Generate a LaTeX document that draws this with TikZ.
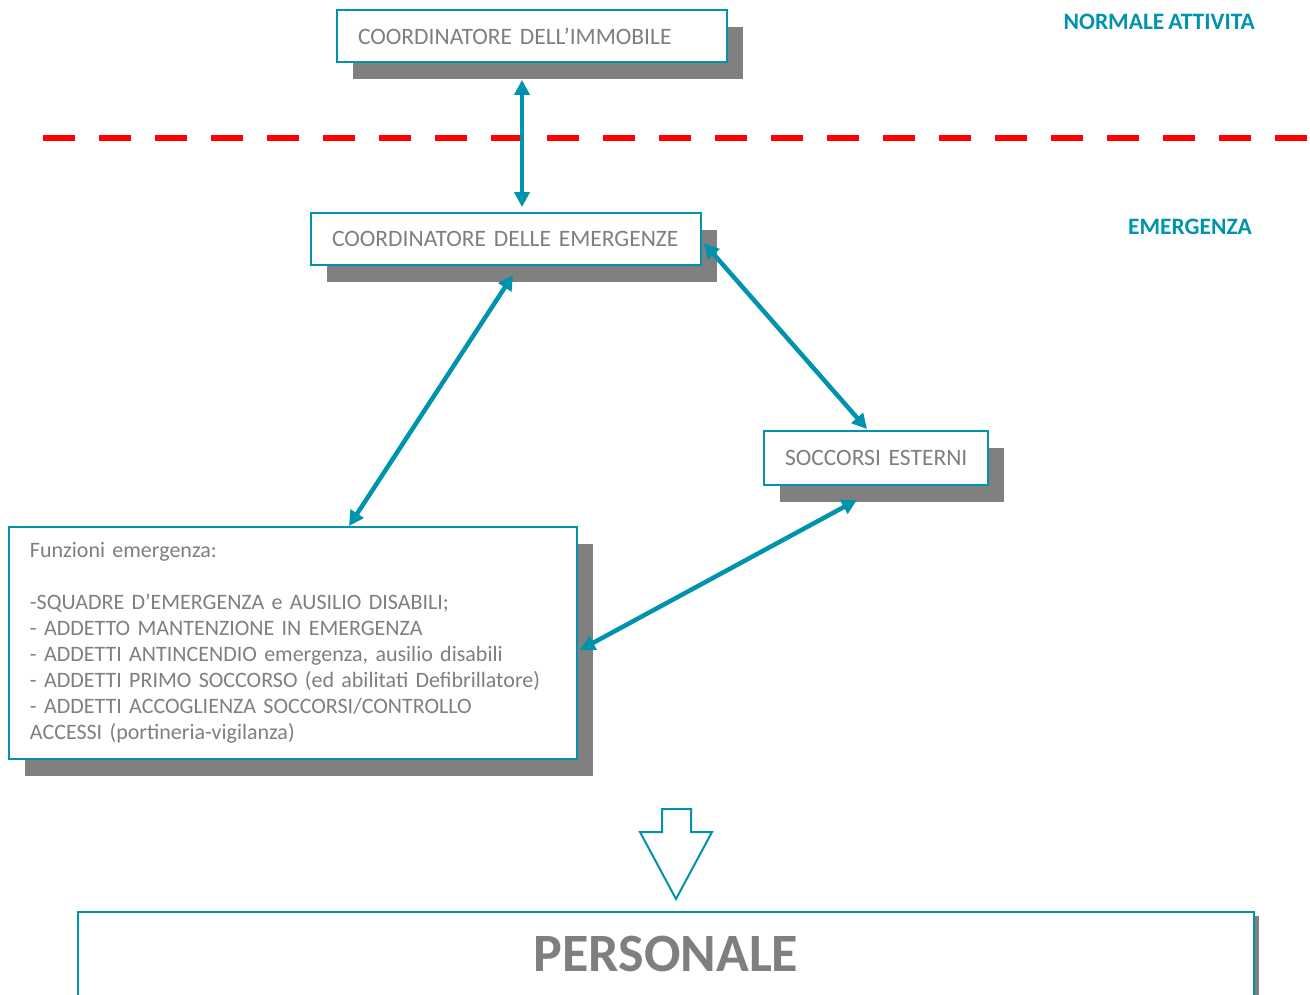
\documentclass[tikz,border=0pt]{standalone}
\usepackage{fontspec}
\setmainfont{Carlito}[WordSpace=0.75]
\usetikzlibrary{calc,arrows.meta,positioning,shadows}
\definecolor{tealx}{HTML}{0093AD}
\definecolor{grayx}{HTML}{7F7F7F}
\definecolor{shadowx}{HTML}{808080}
\definecolor{redx}{HTML}{FF0000}
\tikzset{
  frame/.style={draw=tealx,line width=1.8pt,fill=white,text=grayx,align=left,inner xsep=21pt,
    font=\fontsize{23.5}{26}\selectfont},
  box/.style={frame,drop shadow={shadow xshift=16pt,shadow yshift=-17pt,fill=shadowx,opacity=1}},
  link/.style={{Triangle[length=15pt,width=15pt]}-{Triangle[length=15pt,width=15pt]},line width=4.5pt,tealx},
  phase/.style={text=tealx,font=\fontsize{23.5}{26}\selectfont\bfseries,inner sep=0pt}
}

\begin{document}
\begin{tikzpicture}[x=1pt,y=-1pt]
\clip (0,0) rectangle (1310,994);
% boundary between the two phases
\draw[redx,line width=6pt,dash pattern=on 32pt off 24pt] (43,138) -- (1310,138);
\node[phase,anchor=east] (normale) at (1255,22) {NORMALE ATTIVITA};
\node[phase,anchor=east] (emerg) at (1252,227) {EMERGENZA};

\node[box,text width=348pt,minimum height=52pt] (immobile) at (532,36) {COORDINATORE DELL’IMMOBILE};
\node[box,text width=348pt,minimum height=52pt] (coord) at (506,239) {COORDINATORE DELLE EMERGENZE};
\node[box,text width=182pt,minimum height=54pt] (soccorsi) at (876,458) {\mbox{SOCCORSI ESTERNI}};
\node[box,text width=526pt,minimum height=232pt,font=\fontsize{22}{26}\selectfont] (funzioni) at (293,643) {Funzioni emergenza:\\[26pt]
-SQUADRE D’EMERGENZA e AUSILIO DISABILI;\\
- ADDETTO MANTENZIONE IN EMERGENZA\\
- ADDETTI ANTINCENDIO emergenza, ausilio disabili\\
- ADDETTI PRIMO SOCCORSO (ed abilitati Defibrillatore)\\
- ADDETTI ACCOGLIENZA SOCCORSI/CONTROLLO\\
ACCESSI (portineria-vigilanza)};
\node[frame,align=center,text width=1134pt,minimum height=84pt,font=\fontsize{54}{60}\selectfont\bfseries,
  drop shadow={shadow xshift=5pt,shadow yshift=-4pt,fill=shadowx,opacity=1}] (personale) at (666,954) {PERSONALE};

% hollow arrow down to the staff
\draw[tealx,line width=2pt,fill=white] (662,809) -- (691,809) -- (691,832) -- (712,832) -- (676,899) -- (640,832) -- (662,832) -- cycle;

\draw[link] ([xshift=-10pt,yshift=-17pt]immobile.south) -- ([xshift=16pt,yshift=5pt]coord.north);
\draw[link] ([xshift=7pt,yshift=-9pt]coord.south) -- ([xshift=56pt]funzioni.north);
\draw[link] ([xshift=2pt,yshift=-4pt]coord.east) -- ([xshift=-9pt,yshift=1pt]soccorsi.north);
\draw[link] ([xshift=-19pt,yshift=-14pt]soccorsi.south) -- ([xshift=2pt,yshift=-7pt]funzioni.east);
\end{tikzpicture}
\end{document}
